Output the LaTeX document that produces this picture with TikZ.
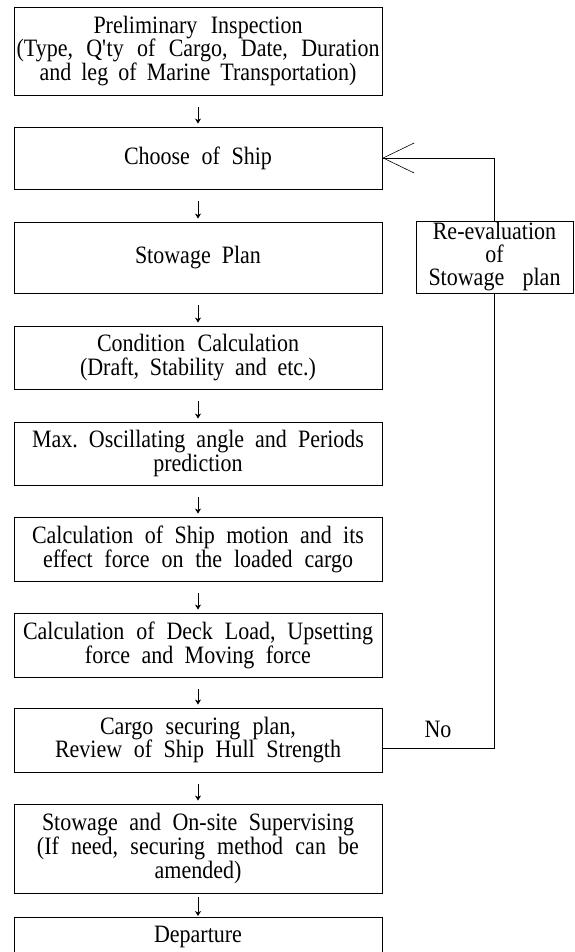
\documentclass[tikz,border=0pt]{standalone}
\usepackage{fontspec}
\setmainfont[FakeStretch=0.88]{Liberation Serif}
\usetikzlibrary{arrows.meta}
\newcommand{\jl}[2]{\makebox[#1pt][s]{#2}}
\frenchspacing
\begin{document}
\begin{tikzpicture}[x=1pt,y=-1pt,
  box/.style={draw, line width=0.9pt, minimum width=368pt, inner sep=0pt, align=center,
    font=\fontsize{25pt}{23.8pt}\selectfont},
  sidebox/.style={draw, line width=0.9pt, minimum width=157pt, minimum height=72pt, inner sep=0pt, align=center,
    font=\fontsize{25pt}{23pt}\selectfont},
  lbl/.style={inner sep=0pt, font=\fontsize{25pt}{24pt}\selectfont},
  flow/.style={line width=0.8pt, -{Stealth[length=5pt,width=6pt,inset=1.5pt]}, shorten >=3pt, shorten <=12pt},
  back/.style={line width=0.8pt, -{Straight Barb[length=31pt,width=30pt,line width=0.6pt]}}
]
\useasboundingbox (0,0) rectangle (574,952);

\node[box, minimum height=88pt] (b1) at (198,51)
  {\jl{209}{Preliminary Inspection}\\
   \jl{363}{(Type, Q\textquotesingle ty of Cargo, Date, Duration}\\
   \jl{317}{and leg of Marine Transportation)}};
\node[box, minimum height=62pt] (b2) at (198,158) {\jl{148}{Choose of Ship}};
\node[box, minimum height=71pt] (b3) at (198,257.5) {\jl{126}{Stowage Plan}};
\node[box, minimum height=63pt] (b4) at (198,357.5)
  {\jl{202}{Condition Calculation}\\ \jl{236}{(Draft, Stability and etc.)}};
\node[box, minimum height=63pt] (b5) at (198,453.5)
  {\jl{332}{Max. Oscillating angle and Periods}\\ prediction};
\node[box, minimum height=64pt] (b6) at (198,549)
  {\jl{332}{Calculation of Ship motion and its}\\ \jl{310}{effect force on the loaded cargo}};
\node[box, minimum height=64pt] (b7) at (198,645)
  {\jl{350}{Calculation of Deck Load, Upsetting}\\ \jl{226}{force and Moving force}};
\node[box, minimum height=64pt] (b8) at (198,740)
  {\jl{196}{Cargo securing plan,}\\ \jl{286}{Review of Ship Hull Strength}};
\node[box, minimum height=89pt] (b9) at (198,848.5)
  {\jl{312}{Stowage and On-site Supervising}\\ \jl{322}{(If need, securing method can be}\\ amended)};
\node[box, minimum height=40pt] (b10) at (198,937) {Departure};

\node[sidebox] (re) at (494.5,257)
  {Re-evaluation\\ of\\ \jl{132}{Stowage plan}};
\node[lbl] (no) at (438,729) {No};

\draw[flow] (b1) -- (b2);
\draw[flow] (b2) -- (b3);
\draw[flow] (b3) -- (b4);
\draw[flow] (b4) -- (b5);
\draw[flow] (b5) -- (b6);
\draw[flow] (b6) -- (b7);
\draw[flow] (b7) -- (b8);
\draw[flow] (b8) -- (b9);
\draw[flow, shorten <=4pt, shorten >=0.5pt] (b9) -- (b10);

\coordinate (nocorner) at (494.5,748);
\draw[line width=0.8pt] (re.south) -- (nocorner) -- (nocorner -| b8.east);
\draw[back] (re.north) |- (b2.east);
\end{tikzpicture}
\end{document}
